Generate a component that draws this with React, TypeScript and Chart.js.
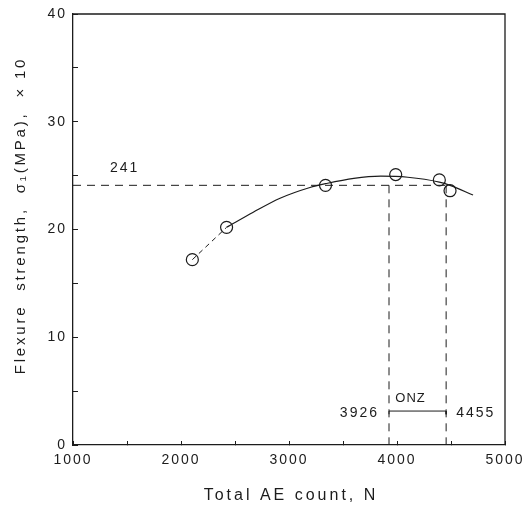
import React, { useEffect, useRef } from 'react';
import { Chart, registerables } from 'chart.js';

Chart.register(...registerables);

// Measured points: total AE count vs flexure strength (MPa x10)
const AE_COUNT = [2105, 2422, 3338, 3988, 4392, 4491];
const STRENGTH = [17.2, 20.2, 24.1, 25.1, 24.6, 23.6];

// Fitted curve (solid part)
const FIT_X = [2422, 2669, 2917, 3194, 3338, 3600, 3850, 4100, 4392, 4491, 4704];
const FIT_Y = [20.2, 21.6, 22.9, 23.9, 24.25, 24.75, 24.95, 24.85, 24.4, 24.1, 23.2];

// Reference level and ONZ range
const LEVEL = 24.1;
const ONZ_START = 3926;
const ONZ_END = 4455;
const ONZ_BAR = 3.15;
const ONZ_TICK = 2.85;

const X_MIN = 1000;
const X_MAX = 5000;
const Y_MIN = 0;
const Y_MAX = 40;

const X_TITLE = 'Total AE count, N';
const Y_TITLE = 'Flexure  strength,  σ₁(MPa),  × 10';
const ONZ_LABEL = 'ONZ';

const INK = '#1c1c1c';
const FONT = '"Liberation Sans", Arial, sans-serif';

const pts = (xs: number[], ys: number[]) => xs.map((x, i) => ({ x, y: ys[i] }));

export default function App() {
  const ref = useRef<HTMLCanvasElement | null>(null);

  useEffect(() => {
    if (!ref.current) return;

    const spacingPlugin = {
      id: 'spacing',
      beforeDraw(chart: any) {
        chart.ctx.letterSpacing = '2px';
      },
    };

    const framePlugin = {
      id: 'frame',
      afterDatasetsDraw(chart: any) {
        const { ctx, chartArea: a } = chart;
        ctx.save();
        ctx.strokeStyle = INK;
        ctx.lineWidth = 1.3;
        ctx.beginPath();
        ctx.moveTo(a.left, a.top);
        ctx.lineTo(a.right, a.top);
        ctx.lineTo(a.right, a.bottom);
        ctx.stroke();
        ctx.restore();
      },
    };

    const textPlugin = {
      id: 'texts',
      afterDraw(chart: any) {
        const { ctx, chartArea: a } = chart;
        const xs = chart.scales.x;
        const ys = chart.scales.y;
        ctx.save();
        ctx.fillStyle = INK;
        ctx.textBaseline = 'middle';

        // level label
        ctx.font = `14px ${FONT}`;
        ctx.letterSpacing = '2px';
        ctx.textAlign = 'left';
        ctx.fillText(String(Math.round(LEVEL * 10)), xs.getPixelForValue(X_MIN) + 37, ys.getPixelForValue(LEVEL) - 17);

        // ONZ labels
        const x1 = xs.getPixelForValue(ONZ_START);
        const x2 = xs.getPixelForValue(ONZ_END);
        const yb = ys.getPixelForValue(ONZ_BAR);
        ctx.textAlign = 'right';
        ctx.fillText(String(ONZ_START), x1 - 10, yb + 2);
        ctx.textAlign = 'left';
        ctx.fillText(String(ONZ_END), x2 + 10, yb + 2);
        ctx.font = `13px ${FONT}`;
        ctx.letterSpacing = '1px';
        ctx.textAlign = 'center';
        ctx.fillText(ONZ_LABEL, (x1 + x2) / 2 - 7, yb - 13);

        // axis titles
        ctx.font = `16px ${FONT}`;
        ctx.letterSpacing = '3px';
        ctx.textAlign = 'center';
        ctx.fillText(X_TITLE, (a.left + a.right) / 2 + 2, 496);

        ctx.save();
        ctx.translate(21, (a.top + a.bottom) / 2 - 14);
        ctx.rotate(-Math.PI / 2);
        ctx.font = `15px ${FONT}`;
        ctx.letterSpacing = '2.8px';
        ctx.fillText(Y_TITLE, 0, 0);
        ctx.restore();

        ctx.restore();
      },
    };

    const chart = new Chart(ref.current, {
      type: 'scatter',
      data: {
        datasets: [
          {
            label: 'level',
            data: [{ x: X_MIN, y: LEVEL }, { x: ONZ_END, y: LEVEL }],
            showLine: true,
            borderColor: INK,
            borderWidth: 1,
            borderDash: [8, 6],
            pointRadius: 0,
          },
          {
            label: 'start',
            data: [{ x: ONZ_START, y: LEVEL }, { x: ONZ_START, y: Y_MIN }],
            showLine: true,
            borderColor: INK,
            borderWidth: 1,
            borderDash: [8, 6],
            pointRadius: 0,
          },
          {
            label: 'end',
            data: [{ x: ONZ_END, y: LEVEL }, { x: ONZ_END, y: Y_MIN }],
            showLine: true,
            borderColor: INK,
            borderWidth: 1,
            borderDash: [8, 6],
            pointRadius: 0,
          },
          {
            label: 'bracket',
            data: [
              { x: ONZ_START, y: ONZ_TICK },
              { x: ONZ_START, y: ONZ_BAR },
              { x: ONZ_END, y: ONZ_BAR },
              { x: ONZ_END, y: ONZ_TICK },
            ],
            showLine: true,
            borderColor: INK,
            borderWidth: 1,
            pointRadius: 0,
          },
          {
            label: 'early',
            data: pts(AE_COUNT.slice(0, 2), STRENGTH.slice(0, 2)),
            showLine: true,
            borderColor: INK,
            borderWidth: 1,
            borderDash: [5, 4],
            pointRadius: 0,
          },
          {
            label: 'fit',
            data: pts(FIT_X, FIT_Y),
            showLine: true,
            borderColor: INK,
            borderWidth: 1.2,
            cubicInterpolationMode: 'monotone',
            pointRadius: 0,
          },
          {
            label: 'measured',
            data: pts(AE_COUNT, STRENGTH),
            showLine: false,
            pointStyle: 'circle',
            pointRadius: 6,
            pointBorderWidth: 1.2,
            borderColor: INK,
            backgroundColor: 'rgba(0,0,0,0)',
          },
        ],
      },
      options: {
        responsive: false,
        animation: false,
        devicePixelRatio: 1,
        layout: { padding: { left: 0, right: 19, top: 14, bottom: 0 } },
        plugins: { legend: { display: false }, tooltip: { enabled: false } },
        scales: {
          x: {
            type: 'linear',
            min: X_MIN,
            max: X_MAX,
            afterFit: (s: any) => {
              s.height = 62;
              s.paddingLeft = 0;
              s.paddingRight = 0;
            },
            ticks: {
              stepSize: 500,
              autoSkip: false,
              maxRotation: 0,
              padding: 11,
              color: INK,
              font: { family: FONT, size: 14 },
              callback: (v: any) => (Number(v) % 1000 === 0 ? String(v) : ''),
            },
            grid: { drawOnChartArea: false, drawTicks: true, tickLength: -4, color: INK, lineWidth: 1 },
            border: { display: true, color: INK, width: 1.3 },
          },
          y: {
            type: 'linear',
            min: Y_MIN,
            max: Y_MAX,
            afterFit: (s: any) => {
              s.width = 73;
              s.paddingTop = 0;
              s.paddingBottom = 0;
            },
            ticks: {
              stepSize: 5,
              autoSkip: false,
              padding: 11,
              color: INK,
              font: { family: FONT, size: 14 },
              callback: (v: any) => (Number(v) % 10 === 0 ? String(v) : ''),
            },
            grid: { drawOnChartArea: false, drawTicks: true, tickLength: -5, color: INK, lineWidth: 1 },
            border: { display: true, color: INK, width: 1.3 },
          },
        },
      },
      plugins: [spacingPlugin, framePlugin, textPlugin],
    } as any);

    return () => chart.destroy();
  }, []);

  return (
    <div style={{ position: 'absolute', left: 0, top: 0, width: 524, height: 507, background: '#fff' }}>
      <canvas ref={ref} width={524} height={507} />
    </div>
  );
}
